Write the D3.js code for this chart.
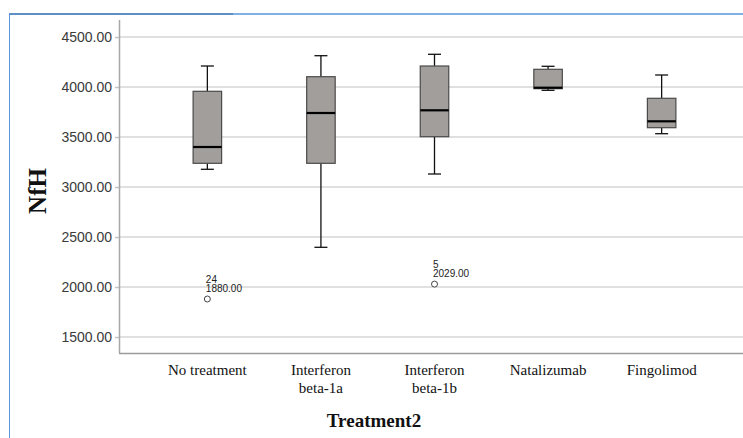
<!DOCTYPE html>
<html>
<head>
<meta charset="utf-8">
<script src="https://cdn.jsdelivr.net/npm/d3@7"></script>
<style>
  html, body { margin: 0; padding: 0; background: #fff; }
  svg { display: block; }
</style>
</head>
<body>
<svg id="chart" width="743" height="438"></svg>
<script>
// ---- data ----
const categories = ["No treatment", "Interferon\nbeta-1a", "Interferon\nbeta-1b", "Natalizumab", "Fingolimod"];
const whiskerLow  = [3177, 2397, 3130, 3967, 3533];
const q1          = [3237, 3237, 3503, 3983, 3593];
const medians     = [3400, 3740, 3767, 3993, 3657];
const q3          = [3957, 4103, 4210, 4177, 3887];
const whiskerHigh = [4210, 4313, 4327, 4207, 4120];
const outlierCategory = [0, 2];
const outlierValue    = [1880, 2029];
const outlierCase     = ["24", "5"];
const yTicks = [1500, 2000, 2500, 3000, 3500, 4000, 4500];

// ---- layout ----
const svg = d3.select("#chart");
const plotLeft = 119, plotRight = 750, plotTop = 20, plotBottom = 353;
const serif = "'Liberation Serif', 'Times New Roman', serif";
const sans = "'Liberation Sans', Arial, sans-serif";

const x = d3.scalePoint().domain(d3.range(categories.length)).range([plotLeft, plotRight]).padding(0.778);
const y = d3.scaleLinear().domain([1340, 4670]).range([plotBottom, plotTop]);

// outer frame
svg.append("line").attr("x1", 9).attr("x2", 743).attr("y1", 14).attr("y2", 14)
  .attr("stroke", "#7fb0e6").attr("stroke-width", 2);
svg.append("line").attr("x1", 9).attr("x2", 233).attr("y1", 14).attr("y2", 14)
  .attr("stroke", "#5e8fc6").attr("stroke-width", 2);
svg.append("line").attr("x1", 9.5).attr("x2", 9.5).attr("y1", 13).attr("y2", 438)
  .attr("stroke", "#5a94dc").attr("stroke-width", 1);

// gridlines
svg.append("g").selectAll("line").data(yTicks).join("line")
  .attr("x1", plotLeft).attr("x2", 743)
  .attr("y1", d => y(d)).attr("y2", d => y(d))
  .attr("stroke", "#d6d6d6").attr("stroke-width", 1.5);

// y axis
const yAxis = d3.axisLeft(y).tickValues(yTicks).tickFormat(d3.format(".2f")).tickSize(4).tickPadding(3);
const gy = svg.append("g").attr("transform", `translate(${plotLeft},0)`).call(yAxis);
gy.select(".domain").remove();
gy.selectAll(".tick line").attr("stroke", "#c4c4c4").attr("stroke-width", 1.5);
gy.selectAll(".tick text").style("font-family", sans)
  .attr("font-size", 14).attr("fill", "#3a3a3a");
svg.append("line").attr("x1", plotLeft + 0.5).attr("x2", plotLeft + 0.5).attr("y1", plotTop).attr("y2", plotBottom)
  .attr("stroke", "#a8a8a8").attr("stroke-width", 1.5);

// x axis
const xAxis = d3.axisBottom(x).tickSize(0).tickFormat("");
const gx = svg.append("g").attr("transform", `translate(0,${plotBottom})`).call(xAxis);
gx.select(".domain").remove();
svg.append("line").attr("x1", plotLeft).attr("x2", 743).attr("y1", plotBottom + 0.5).attr("y2", plotBottom + 0.5)
  .attr("stroke", "#9a9a9a").attr("stroke-width", 1.5);

// category labels
categories.forEach((c, i) => {
  const lines = c.split("\n");
  const t = svg.append("text").attr("text-anchor", "middle")
    .style("font-family", serif)
    .attr("font-size", 15).attr("fill", "#111");
  lines.forEach((l, j) => {
    t.append("tspan").attr("x", x(i)).attr("y", 375 + j * 18).text(l);
  });
});

// axis titles
svg.append("text").attr("x", 374).attr("y", 427).attr("text-anchor", "middle")
  .style("font-family", serif).attr("font-weight", "bold")
  .attr("font-size", 19).attr("fill", "#111").text("Treatment2");
svg.append("text").attr("transform", "translate(46,191) rotate(-90)").attr("text-anchor", "middle")
  .style("font-family", serif).attr("font-weight", "bold")
  .attr("font-size", 25).attr("fill", "#111").text("NfH");

// boxes
const bw = 28.5, capW = 13;
const g = svg.append("g");
categories.forEach((c, i) => {
  const cx = x(i);
  g.append("line").attr("x1", cx).attr("x2", cx).attr("y1", y(whiskerHigh[i])).attr("y2", y(q3[i]))
    .attr("stroke", "#111").attr("stroke-width", 1.3);
  g.append("line").attr("x1", cx).attr("x2", cx).attr("y1", y(q1[i])).attr("y2", y(whiskerLow[i]))
    .attr("stroke", "#111").attr("stroke-width", 1.3);
  g.append("line").attr("x1", cx - capW / 2).attr("x2", cx + capW / 2)
    .attr("y1", y(whiskerHigh[i])).attr("y2", y(whiskerHigh[i])).attr("stroke", "#111").attr("stroke-width", 1.3);
  g.append("line").attr("x1", cx - capW / 2).attr("x2", cx + capW / 2)
    .attr("y1", y(whiskerLow[i])).attr("y2", y(whiskerLow[i])).attr("stroke", "#111").attr("stroke-width", 1.3);
  g.append("rect").attr("x", cx - bw / 2).attr("width", bw)
    .attr("y", y(q3[i])).attr("height", y(q1[i]) - y(q3[i]))
    .attr("fill", "#a29e9c").attr("stroke", "#4a4a4a").attr("stroke-width", 1.2);
  g.append("line").attr("x1", cx - bw / 2).attr("x2", cx + bw / 2)
    .attr("y1", y(medians[i])).attr("y2", y(medians[i])).attr("stroke", "#000").attr("stroke-width", 2.2);
});

// outliers
outlierValue.forEach((v, k) => {
  const cx = x(outlierCategory[k]), cy = y(v);
  g.append("circle").attr("cx", cx).attr("cy", cy).attr("r", 3)
    .attr("fill", "#fff").attr("stroke", "#444").attr("stroke-width", 1);
  const t = svg.append("text").style("font-family", sans)
    .attr("font-size", 10).attr("fill", "#222");
  t.append("tspan").attr("x", cx - 1.5).attr("y", cy - 16.5).text(outlierCase[k]);
  t.append("tspan").attr("x", cx - 1.5).attr("y", cy - 7).text(d3.format(".2f")(v));
});
</script>
</body>
</html>
